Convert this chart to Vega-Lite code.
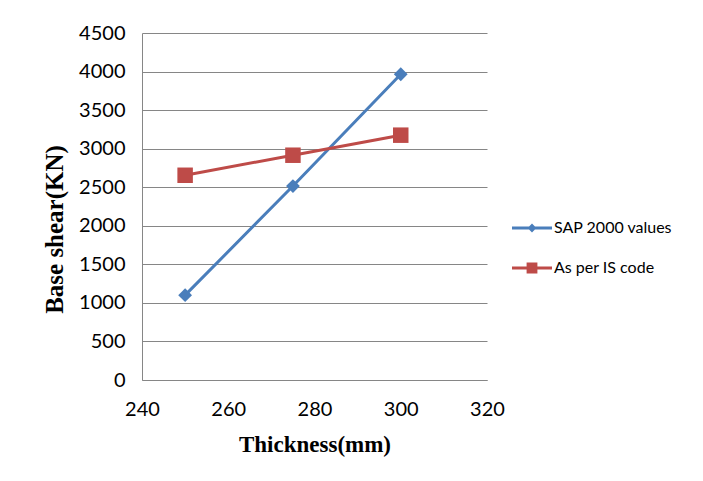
{
  "$schema": "https://vega.github.io/schema/vega-lite/v6.json",
  "width": 345,
  "height": 347,
  "autosize": {"type": "none"},
  "padding": {"left": 142, "top": 33, "right": 216, "bottom": 101},
  "background": "white",
  "config": {
    "view": {"stroke": null},
    "font": "Lato"
  },
  "data": {
    "values": [
      {"thickness": 250, "shear": 1100, "series": "SAP 2000 values"},
      {"thickness": 275, "shear": 2515, "series": "SAP 2000 values"},
      {"thickness": 300, "shear": 3965, "series": "SAP 2000 values"},
      {"thickness": 250, "shear": 2655, "series": "As per IS code"},
      {"thickness": 275, "shear": 2915, "series": "As per IS code"},
      {"thickness": 300, "shear": 3175, "series": "As per IS code"}
    ]
  },
  "encoding": {
    "x": {
      "field": "thickness", "type": "quantitative",
      "scale": {"domain": [240, 320], "nice": false, "zero": false},
      "axis": {
        "title": "Thickness(mm)", "values": [240, 260, 280, 300, 320], "format": "d", "labelFlush": false,
        "grid": false, "ticks": false, "domainColor": "#868686", "domainWidth": 1,
        "labelFont": "Lato", "labelFontSize": 20, "labelColor": "#000000", "labelPadding": 19,
        "titleFont": "Liberation Serif", "titleFontSize": 23, "titleFontWeight": "bold", "titleColor": "#000000", "titlePadding": 14
      }
    },
    "y": {
      "field": "shear", "type": "quantitative",
      "scale": {"domain": [0, 4500], "nice": false},
      "axis": {
        "title": "Base shear(KN)", "values": [0, 500, 1000, 1500, 2000, 2500, 3000, 3500, 4000, 4500], "format": "d",
        "grid": true, "gridColor": "#868686", "gridWidth": 1, "ticks": false,
        "domainColor": "#868686", "domainWidth": 1,
        "labelFont": "Lato", "labelFontSize": 20, "labelColor": "#000000", "labelPadding": 17,
        "titleFont": "Liberation Serif", "titleFontSize": 25, "titleFontWeight": "bold", "titleColor": "#000000", "titlePadding": 11,
        "titleY": 196
      }
    },
    "color": {
      "field": "series", "type": "nominal",
      "scale": {"domain": ["SAP 2000 values", "As per IS code"], "range": ["#4A7EBB", "#BE4B48"]},
      "legend": {
        "title": null, "orient": "none", "legendX": 370, "legendY": 175, "padding": 0,
        "symbolSize": 1600, "rowPadding": 12, "labelOffset": 2,
        "symbolType": "M-1,-0.075H1V0.075H-1Z",
        "symbolStrokeWidth": 0,
        "labelFont": "Lato", "labelFontSize": 16, "labelColor": "#000000",
        "encode": {
          "symbols": {
            "update": {
              "shape": {"signal": "datum.value == 'SAP 2000 values' ? 'M-1,-0.075H1V0.075H-1Z M-0.22,0L0,-0.22L0.22,0L0,0.22Z' : 'M-1,-0.075H1V0.075H-1Z M-0.27,-0.27H0.27V0.27H-0.27Z'"},
              "fill": {"signal": "datum.value == 'SAP 2000 values' ? '#4A7EBB' : '#BE4B48'"},
              "size": {"value": 1600},
              "strokeWidth": {"value": 0},
              "opacity": {"value": 1}
            }
          }
        }
      }
    }
  },
  "layer": [
    {
      "mark": {"type": "line", "strokeWidth": 3},
      "encoding": {}
    },
    {
      "transform": [{"filter": "datum.series == 'SAP 2000 values'"}],
      "mark": {"type": "point", "filled": true, "opacity": 1, "shape": "diamond", "size": 190}
    },
    {
      "transform": [{"filter": "datum.series == 'As per IS code'"}],
      "mark": {"type": "point", "filled": true, "opacity": 1, "shape": "square", "size": 240}
    }
  ]
}
